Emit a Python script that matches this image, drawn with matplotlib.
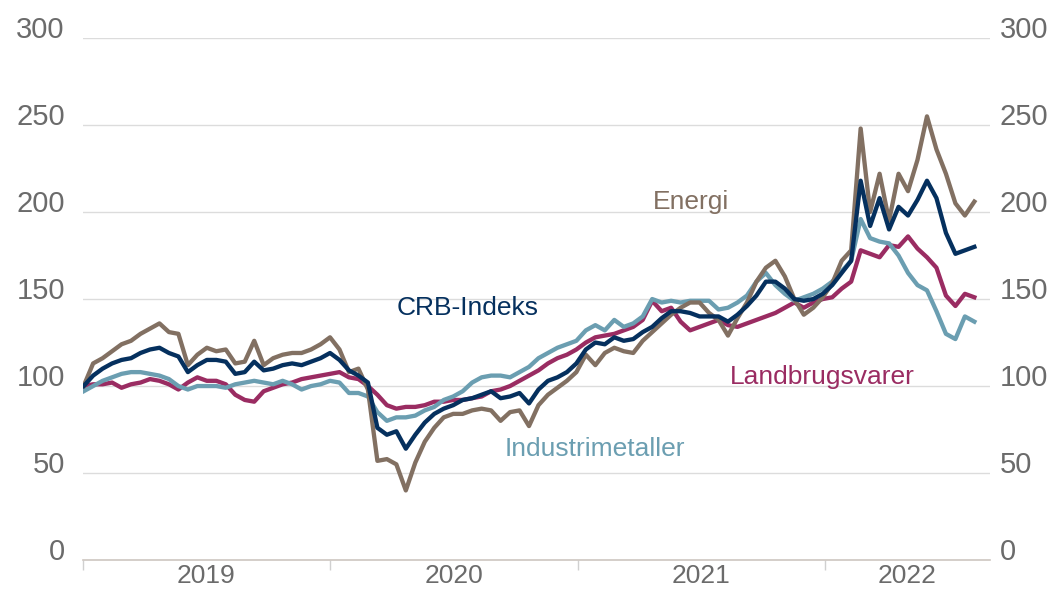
import numpy as np
import pandas as pd
import matplotlib

matplotlib.use('agg')

import matplotlib.pyplot as plt
import matplotlib.dates as mdates
from matplotlib.transforms import blended_transform_factory

plt.rcParams['font.family'] = ['Liberation Sans', 'DejaVu Sans']

# data, index 2019-01-02 = 100, one point every 14 days
dates = pd.date_range('2019-01-02', periods=95, freq='14D')

energi = [100, 113, 116, 120, 124, 126, 130, 133, 136, 131,
          130, 112, 118, 122, 120, 121, 113, 114, 126, 112,
          116, 118, 119, 119, 121, 124, 128, 121, 108, 110,
          98, 57, 58, 55, 40, 56, 68, 76, 82, 84,
          84, 86, 87, 86, 80, 85, 86, 77, 89, 95,
          99, 103, 108, 118, 112, 119, 122, 120, 119, 126,
          131, 136, 141, 145, 148, 148, 142, 138, 129, 139,
          148, 160, 168, 172, 163, 150, 141, 145, 151, 159,
          172, 178, 248, 200, 222, 195, 222, 212, 230, 255,
          236, 222, 205, 198, 206]

crb = [100, 106, 110, 113, 115, 116, 119, 121, 122, 119,
       117, 108, 112, 115, 115, 114, 107, 108, 114, 109,
       110, 112, 113, 112, 114, 116, 119, 115, 109, 106,
       102, 76, 72, 74, 64, 72, 79, 84, 87, 89,
       92, 93, 95, 97, 93, 94, 96, 90, 98, 103,
       105, 108, 113, 121, 125, 124, 128, 126, 127, 131,
       134, 139, 143, 143, 142, 140, 140, 140, 137, 141,
       146, 152, 160, 160, 156, 150, 149, 150, 153, 158,
       165, 172, 218, 192, 208, 190, 203, 198, 207, 218,
       208, 188, 176, 178, 180]

industrimetaller = [97, 100, 103, 105, 107, 108, 108, 107, 106, 104,
                    100, 98, 100, 100, 100, 99, 101, 102, 103, 102,
                    101, 103, 101, 98, 100, 101, 103, 102, 96, 96,
                    94, 85, 80, 82, 82, 83, 86, 88, 92, 94,
                    97, 102, 105, 106, 106, 105, 108, 111, 116, 119,
                    122, 124, 126, 132, 135, 132, 138, 134, 136, 140,
                    150, 148, 149, 148, 149, 149, 149, 144, 145, 148,
                    152, 160, 165, 158, 153, 149, 151, 153, 156, 160,
                    166, 172, 196, 185, 183, 182, 175, 165, 158, 155,
                    143, 130, 127, 140, 137]

landbrugsvarer = [100, 101, 101, 102, 99, 101, 102, 104, 103, 101,
                  98, 102, 105, 103, 103, 101, 95, 92, 91, 97,
                  99, 101, 102, 104, 105, 106, 107, 108, 105, 104,
                  100, 95, 89, 87, 88, 88, 89, 91, 91, 92,
                  92, 93, 94, 97, 98, 100, 103, 106, 109, 113,
                  116, 118, 121, 125, 128, 129, 130, 132, 134, 138,
                  149, 143, 145, 137, 132, 134, 136, 138, 135, 134,
                  136, 138, 140, 142, 145, 148, 145, 148, 150, 151,
                  156, 160, 178, 176, 174, 181, 180, 186, 179, 174,
                  168, 152, 146, 153, 151]

years = [2019, 2020, 2021, 2022]
yticks = [0, 50, 100, 150, 200, 250, 300]

c_energi = '#827062'
c_crb = '#05305e'
c_ind = '#6b9eb1'
c_land = '#9a2c62'
c_text = '#6b6b6b'

fig = plt.figure(figsize=(10.53, 5.90), dpi=100)
ax = fig.add_axes([0.0788, 0.0508, 0.8613, 0.8847])

lw = 3.1
ax.plot(dates, landbrugsvarer, color=c_land, lw=lw, solid_joinstyle='round')
ax.plot(dates, industrimetaller, color=c_ind, lw=lw, solid_joinstyle='round')
ax.plot(dates, energi, color=c_energi, lw=lw, solid_joinstyle='round')
ax.plot(dates, crb, color=c_crb, lw=lw, solid_joinstyle='round')

xmin = pd.Timestamp('2019-01-01')
xmax = pd.Timestamp('2022-09-02')
ax.set_xlim(xmin, xmax)
ax.set_ylim(0, 300)

# grid
for v in yticks[1:]:
    ax.axhline(v, color='#dcdcdc', lw=1, zorder=0)
for s in ['top', 'right', 'left']:
    ax.spines[s].set_visible(False)
ax.spines['bottom'].set_color('#cdc6c0')
ax.spines['bottom'].set_linewidth(1.2)

# year boundaries as ticks, labels centred in each year
ax.set_xticks([pd.Timestamp(f'{y}-01-01') for y in years])
ax.set_xticklabels([])
ax.tick_params(axis='x', direction='out', length=7, color='#d0d0d0', width=1)
ax.set_yticks([])
xtr = blended_transform_factory(ax.transData, ax.transAxes)
for y in years:
    a = pd.Timestamp(f'{y}-01-01')
    b = min(pd.Timestamp(f'{y + 1}-01-01'), xmax)
    mid = a + (b - a) / 2
    ax.text(mdates.date2num(mid), -0.044, str(y), transform=xtr,
            ha='center', va='baseline', fontsize=19, color=c_text)

# y labels both sides, sitting on the gridline
ytr = blended_transform_factory(ax.transAxes, ax.transData)
for v in yticks:
    ax.text(-0.02, v, str(v), transform=ytr, ha='right', va='baseline',
            fontsize=21, color=c_text)
    ax.text(1.011, v, str(v), transform=ytr, ha='left', va='baseline',
            fontsize=21, color=c_text)

# series labels
ax.text(pd.Timestamp('2021-06-17'), 206, 'Energi', color=c_energi,
        fontsize=19, ha='center', va='center')
ax.text(pd.Timestamp('2020-07-23'), 145, 'CRB-Indeks', color=c_crb,
        fontsize=19, ha='center', va='center')
ax.text(pd.Timestamp('2021-12-29'), 105, 'Landbrugsvarer', color=c_land,
        fontsize=19, ha='center', va='center')
ax.text(pd.Timestamp('2021-01-27'), 64, 'Industrimetaller', color=c_ind,
        fontsize=19, ha='center', va='center')

fig.savefig('out.png', dpi=100)
